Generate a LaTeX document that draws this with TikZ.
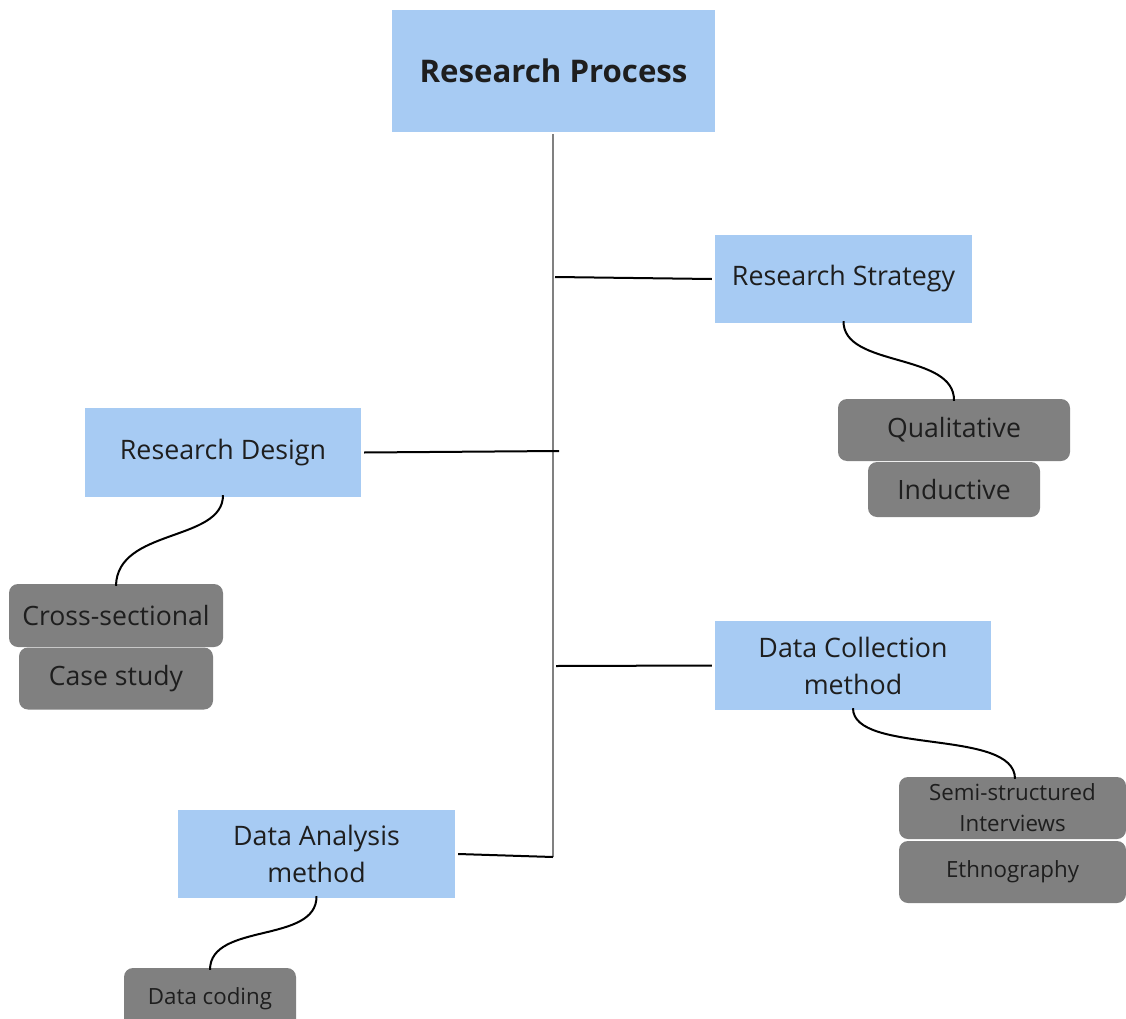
\documentclass[tikz,border=0pt]{standalone}
\usepackage{fontspec}
\setmainfont{Open Sans}
\definecolor{boxblue}{HTML}{A7CBF3}
\definecolor{boxgray}{HTML}{808080}
\definecolor{ink}{HTML}{1E1E1E}
\tikzset{
  mainbox/.style={fill=boxblue, draw=none, inner sep=0pt, align=center, text=ink,
    font=\fontsize{26.8}{37}\selectfont},
  subbox/.style={fill=boxgray, draw=none, rounded corners=9pt, inner sep=0pt, align=center,
    text=ink, font=\fontsize{26.6}{30}\selectfont},
  smallbox/.style={subbox, font=\fontsize{22.3}{31}\selectfont},
  link/.style={black, line width=2pt},
}
\begin{document}
\begin{tikzpicture}[x=1pt,y=-1pt]
      \useasboundingbox (0,0) rectangle (1126,1019);
      % top box and trunk
      \node[mainbox, minimum width=323pt, minimum height=122pt, font=\fontsize{31.2}{35}\selectfont\bfseries]
        (process) at (553.5,71) {Research Process};
      \coordinate (trunktop) at (553,134);
      \coordinate (trunkbot) at (553,857);
      \draw[gray, line width=2pt] (trunktop) -- (trunkbot);

      % branches
      \node[mainbox, minimum width=257pt, minimum height=88pt] (strategy) at (843.5,279) {Research Strategy};
      \node[mainbox, minimum width=276pt, minimum height=89pt] (design) at (223,452.5) {Research Design};
      \node[mainbox, minimum width=276pt, minimum height=89pt] (collection) at (853,665.5) {Data Collection\\method};
      \node[mainbox, minimum width=277pt, minimum height=88pt] (analysis) at (316.5,854) {Data Analysis\\method};

      \coordinate (s) at (555,277);
      \coordinate (d) at (559,451);
      \coordinate (c) at (556,666);
      \draw[link] (s) -- ([xshift=-3pt]strategy.west);
      \draw[link] ([xshift=3pt]design.east) -- (d);
      \draw[link] (c) -- ([xshift=-3pt]collection.west);
      \draw[link] ([xshift=3pt]analysis.east) -- (trunkbot);

      % leaves
      \node[subbox, minimum width=232pt, minimum height=62pt] (qual) at (954,430) {Qualitative};
      \node[subbox, minimum width=172pt, minimum height=55pt] (induct) at (954,489.5) {Inductive};
      \node[subbox, minimum width=214pt, minimum height=63pt] (cross) at (116,615.5) {Cross-sectional};
      \node[subbox, minimum width=194pt, minimum height=62pt] (case) at (116,678.5) {Case study};
      \node[smallbox, minimum width=227pt, minimum height=62pt] (semi) at (1012.5,808) {Semi-structured\\Interviews};
      \node[smallbox, minimum width=227pt, minimum height=62pt] (ethno) at (1012.5,872) {Ethnography};
      \node[smallbox, minimum width=172pt, minimum height=62pt] (coding) at (210,999) {Data coding};

      % wavy links down to the leaves
      \draw[link] ([yshift=2pt]strategy.south) .. controls (843,368) and (955,352) .. ([yshift=-2pt]qual.north);
      \draw[link] ([yshift=2pt]design.south) .. controls (223,542) and (117,528) .. ([yshift=-2pt]cross.north);
      \draw[link] ([yshift=2pt]collection.south) .. controls (853,755) and (1015,728) .. ([yshift=-2pt]semi.north -| 1015,0);
      \draw[link] ([yshift=2pt]analysis.south) .. controls (317,944) and (210,922) .. ([yshift=-2pt]coding.north);

\end{tikzpicture}
\end{document}
